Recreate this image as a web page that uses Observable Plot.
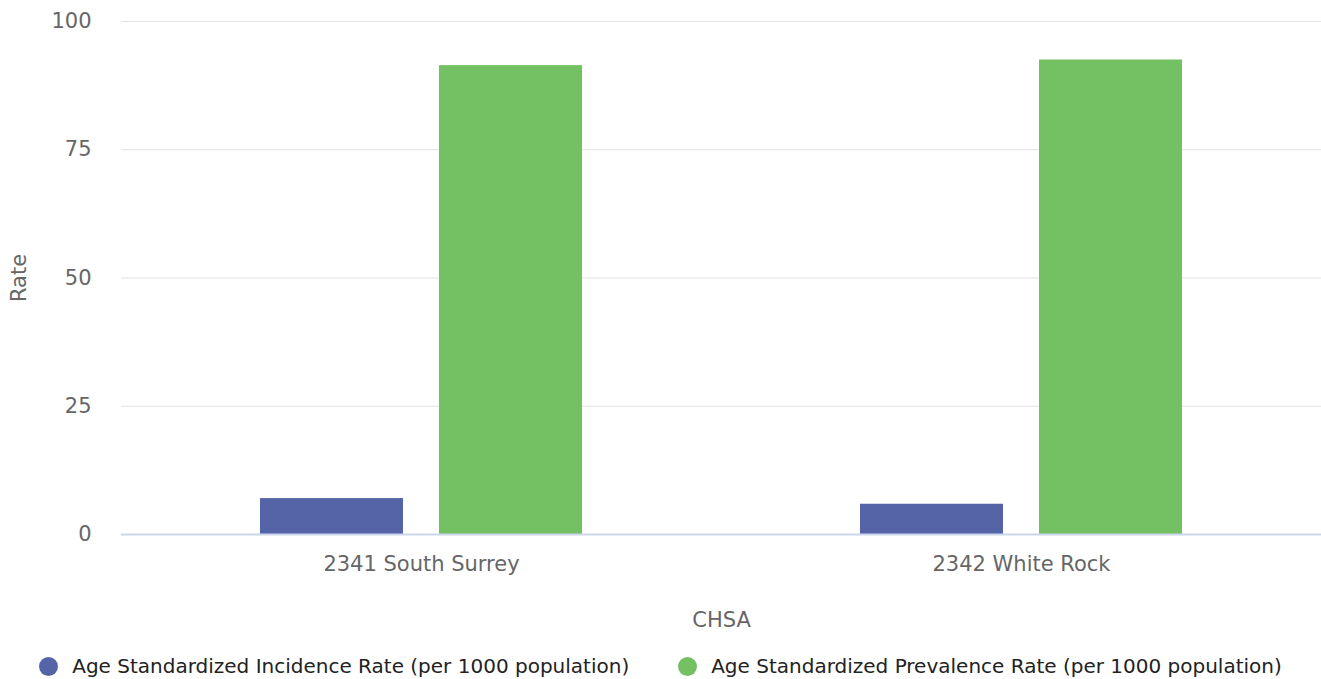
<!DOCTYPE html>
<html>
<head>
<meta charset="utf-8">
<script src="https://cdn.jsdelivr.net/npm/d3@7"></script>
<script src="https://cdn.jsdelivr.net/npm/@observablehq/plot@0.6"></script>
<style>
  html, body { margin: 0; padding: 0; background: #fff; }
  #chart svg { display: block; }
  #legend { display: flex; justify-content: center; gap: 49px; padding-top: 15px;
            font-family: "DejaVu Sans", sans-serif; font-size: 20px; color: #222; line-height: 22px; }
  .item { display: flex; align-items: center; gap: 14px; }
  .dot { width: 19px; height: 19px; border-radius: 50%; display: inline-block; }
</style>
</head>
<body>
<div id="chart"></div>
<div id="legend"></div>
<script>
const categories = ["2341 South Surrey", "2342 White Rock"];
const seriesNames = [
  "Age Standardized Incidence Rate (per 1000 population)",
  "Age Standardized Prevalence Rate (per 1000 population)"
];
const incidence = [7.0, 5.9];
const prevalence = [91.4, 92.5];
const colors = ["#5464a6", "#74c164"];
const yTicks = [0, 25, 50, 75, 100];

const data = [];
categories.forEach((c, i) => {
  data.push({chsa: c, series: seriesNames[0], value: incidence[i]});
  data.push({chsa: c, series: seriesNames[1], value: prevalence[i]});
});

const chart = Plot.plot({
  width: 1321,
  height: 640,
  marginLeft: 120,
  marginRight: 0,
  marginTop: 21,
  marginBottom: 106,
  style: {fontFamily: "'DejaVu Sans', sans-serif", fontSize: "21px", color: "#666", background: "white"},
  fx: {domain: categories, padding: 0},
  x: {domain: seriesNames, paddingInner: 0.203, paddingOuter: 0.773, axis: null},
  y: {domain: [0, 100]},
  color: {domain: seriesNames, range: colors},
  marks: [
    Plot.gridY(yTicks.slice(1), {stroke: "#e3e3e3", strokeOpacity: 1}),
    Plot.barY(data, {fx: "chsa", x: "series", y: "value", fill: "series"}),
    Plot.ruleY([0], {stroke: "#ccd6eb", strokeWidth: 2}),
    Plot.axisY({ticks: yTicks, tickSize: 0, tickPadding: 30, label: "Rate", labelArrow: "none", labelAnchor: "center", labelOffset: 110, fill: "#666", fontSize: 21}),
    Plot.axisFx({anchor: "bottom", tickSize: 0, tickPadding: 22, label: "CHSA", labelArrow: "none", labelAnchor: "center", labelOffset: 92, fill: "#666", fontSize: 21})
  ]
});
document.getElementById("chart").appendChild(chart);

const legend = document.getElementById("legend");
seriesNames.forEach((s, i) => {
  const item = document.createElement("div");
  item.className = "item";
  const dot = document.createElement("span");
  dot.className = "dot";
  dot.style.background = colors[i];
  const label = document.createElement("span");
  label.textContent = s;
  item.appendChild(dot);
  item.appendChild(label);
  legend.appendChild(item);
});
</script>
</body>
</html>
